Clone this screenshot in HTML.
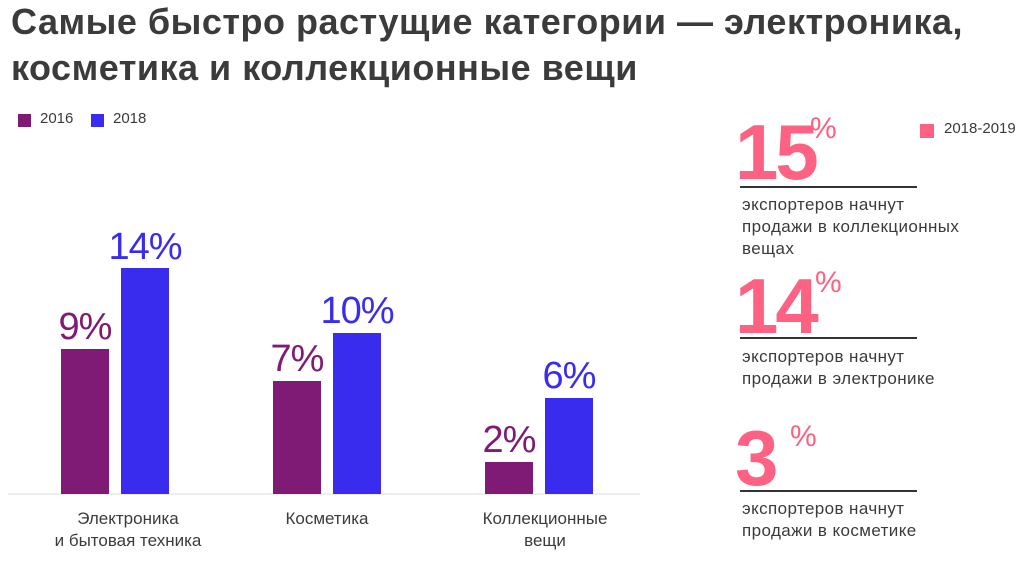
<!DOCTYPE html>
<html><head><meta charset="utf-8"><style>
body{margin:0;width:1023px;height:565px;background:#fff;position:relative;overflow:hidden;font-family:"Liberation Sans","DejaVu Sans",sans-serif;color:#3b3b3b}
div{position:absolute;white-space:nowrap}
.t{font-weight:bold;font-size:36px;left:11px;line-height:44px;letter-spacing:0.5px}
.bar{width:48px}
.p{background:#7f1a75}.b{background:#3a2cef}
.v{font-size:38px;text-align:center;width:100px;letter-spacing:-1px}
.lab{font-size:17px;text-align:center;width:200px;line-height:22px}
.big{color:#fd6283;font-weight:bold;font-size:78px;line-height:76px;letter-spacing:-3px}
.pc{color:#fd6283;font-size:30px}
.hr{height:2px;background:#333;width:177px;left:740px}
.d{font-size:17px;left:742px;line-height:22px;letter-spacing:0.4px}
</style></head><body>
<div class="t" style="top:0px">Самые быстро растущие категории — электроника,</div>
<div class="t" style="top:46px">косметика и коллекционные вещи</div>
<div style="left:18px;top:114px;width:13px;height:13px;background:#7f1a75"></div>
<div style="left:40px;top:110px;font-size:15px">2016</div>
<div style="left:91px;top:114px;width:13px;height:13px;background:#3a2cef"></div>
<div style="left:113px;top:110px;font-size:15px">2018</div>
<div style="left:8px;top:493px;width:632px;height:2px;background:#eee"></div>
<div class="bar p" style="left:61px;top:349px;height:145px"></div>
<div class="bar b" style="left:121px;top:268px;height:226px"></div>
<div class="bar p" style="left:273px;top:381px;height:113px"></div>
<div class="bar b" style="left:333px;top:333px;height:161px"></div>
<div class="bar p" style="left:485px;top:462px;height:32px"></div>
<div class="bar b" style="left:545px;top:398px;height:96px"></div>
<div class="v" style="left:35px;top:306px;color:#7f1a75">9%</div>
<div class="v" style="left:95px;top:226px;color:#3a2cef">14%</div>
<div class="v" style="left:247px;top:338px;color:#7f1a75">7%</div>
<div class="v" style="left:307px;top:290px;color:#3a2cef">10%</div>
<div class="v" style="left:459px;top:419px;color:#7f1a75">2%</div>
<div class="v" style="left:519px;top:355px;color:#3a2cef">6%</div>
<div class="lab" style="left:28px;top:508px">Электроника<br>и бытовая техника</div>
<div class="lab" style="left:227px;top:508px">Косметика</div>
<div class="lab" style="left:445px;top:508px">Коллекционные<br>вещи</div>
<div style="left:920px;top:124px;width:14px;height:14px;background:#fd6283"></div>
<div style="left:944px;top:120px;font-size:15px">2018-2019</div>
<div class="big" style="left:735px;top:114px">15</div><div class="pc" style="left:810px;top:112px">%</div>
<div class="hr" style="top:186px"></div>
<div class="d" style="top:194px">экспортеров начнут<br>продажи в коллекционных<br>вещах</div>
<div class="big" style="left:735px;top:268px">14</div><div class="pc" style="left:815px;top:266px">%</div>
<div class="hr" style="top:337px"></div>
<div class="d" style="top:346px">экспортеров начнут<br>продажи в электронике</div>
<div class="big" style="left:735px;top:420px">3</div><div class="pc" style="left:790px;top:420px">%</div>
<div class="hr" style="top:490px"></div>
<div class="d" style="top:498px">экспортеров начнут<br>продажи в косметике</div>
</body></html>
